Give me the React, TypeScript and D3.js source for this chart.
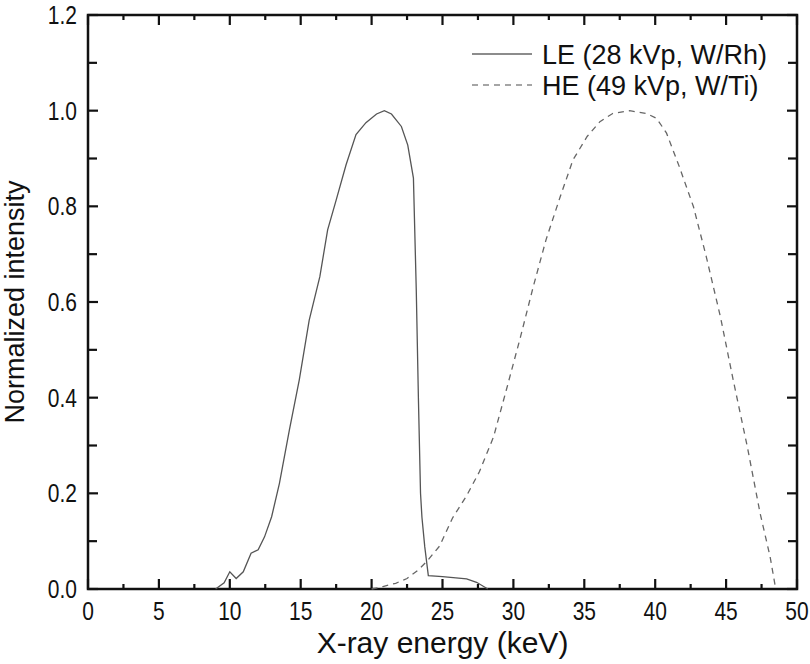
import { useEffect, useRef } from "react";
import * as d3 from "d3";

// LE spectrum (28 kVp, W/Rh)
const leEnergy = [9.0, 9.6, 10.0, 10.45, 10.95, 11.5, 12.0, 12.45, 12.95, 13.5, 14.2, 14.9, 15.6, 16.35, 16.9, 17.5, 18.2, 18.9, 19.6, 20.35, 20.9, 21.4, 22.1, 22.55, 22.95, 23.15, 23.3, 23.45, 23.55, 23.75, 24.0, 25.0, 26.7, 27.4, 28.2];
const leValue = [0.0, 0.013, 0.036, 0.022, 0.036, 0.075, 0.082, 0.109, 0.151, 0.221, 0.332, 0.437, 0.562, 0.653, 0.751, 0.813, 0.887, 0.95, 0.975, 0.993, 1.0, 0.993, 0.967, 0.928, 0.859, 0.625, 0.4, 0.2, 0.15, 0.088, 0.028, 0.026, 0.021, 0.014, 0.0];

// HE spectrum (49 kVp, W/Ti)
const heEnergy = [20.0, 20.8, 21.7, 22.5, 23.3, 23.9, 24.8, 25.7, 26.7, 27.6, 28.6, 29.5, 30.5, 31.4, 32.3, 33.3, 34.2, 35.2, 36.1, 37.0, 38.2, 39.4, 40.1, 40.8, 41.7, 42.7, 43.6, 44.6, 45.5, 46.5, 47.4, 48.1, 48.5];
const heValue = [0.0, 0.005, 0.012, 0.022, 0.04, 0.058, 0.09, 0.148, 0.195, 0.245, 0.318, 0.416, 0.527, 0.632, 0.73, 0.82, 0.897, 0.946, 0.977, 0.994, 1.0, 0.994, 0.984, 0.953, 0.883, 0.799, 0.695, 0.569, 0.437, 0.297, 0.158, 0.068, 0.0];

const xTicks = [0, 5, 10, 15, 20, 25, 30, 35, 40, 45, 50];
const yTicks = [0.0, 0.2, 0.4, 0.6, 0.8, 1.0, 1.2];
const legendLabels = ["LE (28 kVp, W/Rh)", "HE (49 kVp, W/Ti)"];

export default function App() {
  const svgRef = useRef(null);

  useEffect(() => {
    const width = 810;
    const height = 664;
    const margin = { top: 15, right: 13, bottom: 75, left: 88 };
    const font = "'Liberation Sans', Arial, sans-serif";

    const svg = d3.select(svgRef.current);
    svg.selectAll("*").remove();
    svg.attr("width", width).attr("height", height);

    const x = d3.scaleLinear().domain([0, 50]).range([margin.left, width - margin.right]);
    const y = d3.scaleLinear().domain([0, 1.2]).range([height - margin.bottom, margin.top]);

    const x0 = x(0), x1 = x(50), y0 = y(0), y1 = y(1.2);

    // ticks (inward on all four sides)
    const g = svg.append("g").attr("stroke", "#111").attr("stroke-width", 2.2);
    d3.range(0, 50.01, 2.5).forEach((v) => {
      const major = Math.abs(v % 5) < 1e-6;
      const len = major ? 10 : 5;
      g.append("line").attr("x1", x(v)).attr("x2", x(v)).attr("y1", y0).attr("y2", y0 - len);
      g.append("line").attr("x1", x(v)).attr("x2", x(v)).attr("y1", y1).attr("y2", y1 + len);
    });
    d3.range(0, 1.201, 0.1).forEach((v) => {
      const major = Math.abs((v * 10) % 2) < 1e-6;
      const len = major ? 10 : 9;
      g.append("line").attr("x1", x0).attr("x2", x0 + len).attr("y1", y(v)).attr("y2", y(v));
      g.append("line").attr("x1", x1).attr("x2", x1 - len).attr("y1", y(v)).attr("y2", y(v));
    });

    // frame
    svg.append("rect")
      .attr("x", x0).attr("y", y1)
      .attr("width", x1 - x0).attr("height", y0 - y1)
      .attr("fill", "none").attr("stroke", "#111").attr("stroke-width", 2.5);

    // tick labels, slightly condensed
    svg.append("g").selectAll("text").data(xTicks).join("text")
      .attr("transform", (d) => `translate(${x(d)},${y0 + 31}) scale(0.84,1)`)
      .attr("text-anchor", "middle")
      .attr("font-family", font).attr("font-size", 25).attr("fill", "#111")
      .text((d) => d);

    svg.append("g").selectAll("text").data(yTicks).join("text")
      .attr("transform", (d) => `translate(${x0 - 11},${y(d) + 9}) scale(0.84,1)`)
      .attr("text-anchor", "end")
      .attr("font-family", font).attr("font-size", 25).attr("fill", "#111")
      .text((d) => d.toFixed(1));

    // axis titles
    svg.append("text")
      .attr("x", (x0 + x1) / 2).attr("y", y0 + 64)
      .attr("text-anchor", "middle")
      .attr("font-family", font).attr("font-size", 30).attr("fill", "#111")
      .text("X-ray energy (keV)");

    svg.append("text")
      .attr("transform", `translate(24,${(y0 + y1) / 2}) rotate(-90)`)
      .attr("text-anchor", "middle")
      .attr("font-family", font).attr("font-size", 27).attr("fill", "#111")
      .text("Normalized intensity");

    const line = d3.line<[number, number]>()
      .x((d) => x(d[0]))
      .y((d) => y(d[1]));

    const le = leEnergy.map((e, i) => [e, leValue[i]] as [number, number]);
    const he = heEnergy.map((e, i) => [e, heValue[i]] as [number, number]);

    svg.append("path")
      .datum(le)
      .attr("fill", "none").attr("stroke", "#555").attr("stroke-width", 1.3)
      .attr("d", line);

    svg.append("path")
      .datum(he)
      .attr("fill", "none").attr("stroke", "#666").attr("stroke-width", 1.3)
      .attr("stroke-dasharray", "6,5")
      .attr("d", line);

    // legend
    const legend = svg.append("g");
    legendLabels.forEach((label, i) => {
      const ly = 54 + i * 31;
      legend.append("line")
        .attr("x1", 472).attr("x2", 532).attr("y1", ly).attr("y2", ly)
        .attr("stroke", i === 0 ? "#666" : "#888").attr("stroke-width", 1.3)
        .attr("stroke-dasharray", i === 0 ? null : "6,5");
      legend.append("text")
        .attr("x", 542).attr("y", ly + 10)
        .attr("font-family", font).attr("font-size", 27).attr("fill", "#111")
        .text(label);
    });
  }, []);

  return (
    <div style={{ position: "absolute", left: 0, top: 0 }}>
      <svg ref={svgRef} style={{ display: "block" }}></svg>
    </div>
  );
}
